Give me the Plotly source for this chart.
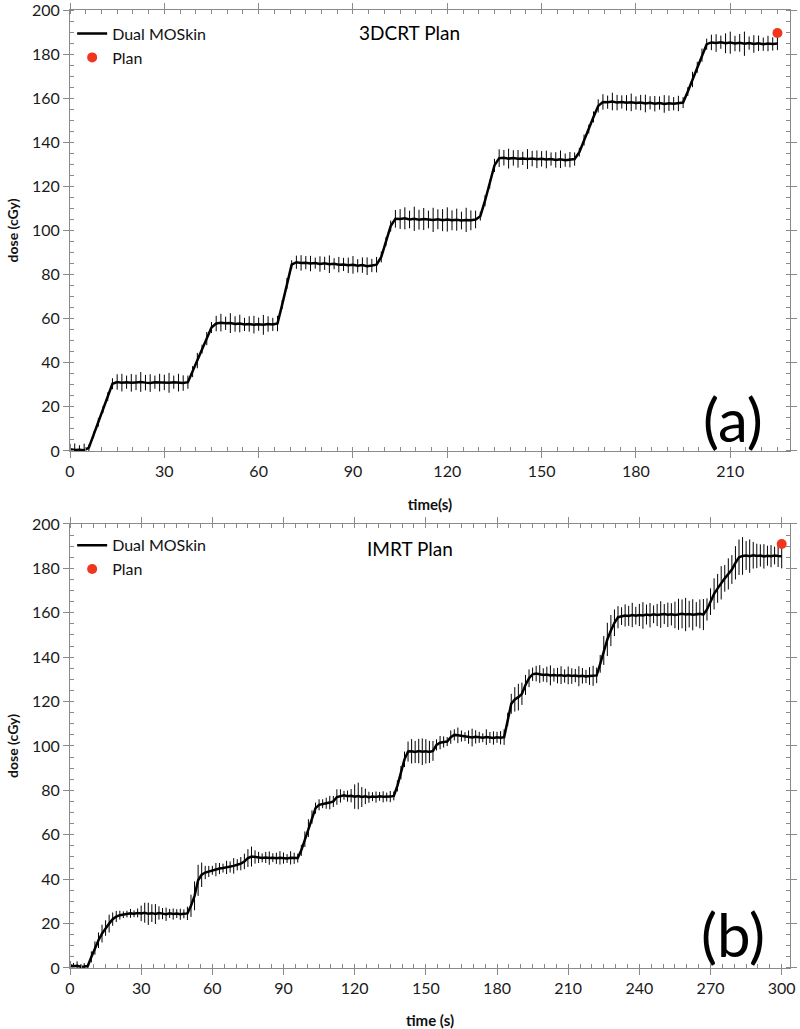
import plotly.graph_objects as go

# ---------------- data ----------------
# sampling interval (s) of the Dual MOSkin read-out
sample_step = 1.5

# 3DCRT plan: dose (cGy) at t = 0, 1.5, 3, ... 225 s
dcrt_dose = [
    0.8, 0.4, 0.6, 0.3, 1.5, 7.3, 13.0, 18.8, 24.6, 30.5,
    31.3, 31.0, 31.2, 30.9, 31.1, 31.3, 31.0, 30.8, 31.2, 31.0,
    31.1, 30.9, 31.2, 31.0, 30.8, 31.2, 36.0, 41.0, 46.2, 51.0,
    56.0, 57.8, 58.2, 57.9, 58.0, 57.6, 57.8, 57.4, 57.6, 57.3,
    57.5, 57.2, 57.6, 57.4, 57.8, 66.5, 76.0, 84.5, 85.6, 85.3,
    85.4, 85.0, 85.2, 84.8, 85.1, 84.7, 84.9, 84.5, 84.6, 84.2,
    84.4, 84.0, 84.3, 83.8, 84.1, 84.5, 88.0, 95.0, 102.0, 105.3,
    105.2, 105.5, 105.0, 105.3, 104.9, 105.2, 105.0, 104.8, 105.1, 104.7,
    105.0, 104.6, 104.9, 104.5, 104.8, 104.6, 105.0, 106.5, 113.5, 121.0,
    129.5, 132.8, 133.0, 132.6, 132.9, 132.5, 132.7, 132.4, 132.6, 132.3,
    132.5, 132.2, 132.4, 132.0, 132.3, 131.9, 132.1, 132.4, 135.5, 141.0,
    146.0, 151.5, 156.5, 158.3, 158.2, 158.5, 158.0, 158.3, 157.9, 158.1,
    157.8, 158.0, 157.6, 157.9, 157.5, 157.8, 157.4, 157.7, 157.5, 157.6,
    158.0, 163.0, 168.5, 174.0, 179.5, 184.5, 185.3, 185.0, 185.4, 184.9,
    185.2, 184.8, 185.1, 184.7, 185.0, 184.6, 184.9, 184.5, 184.8, 184.6,
    184.8,
]
dcrt_err = [
    2.5, 3.0, 2.0, 3.0, 1.5, 1.5, 2.0, 1.5, 2.0, 2.5,
    3.5, 4.0, 3.0, 4.0, 3.5, 4.5, 3.5, 4.0, 3.0, 4.0,
    3.5, 4.5, 3.0, 4.0, 3.5, 3.0, 2.5, 3.5, 2.0, 3.0,
    2.5, 3.5, 4.0, 3.0, 4.5, 3.5, 4.0, 3.0, 3.5, 4.0,
    3.0, 4.5, 3.5, 3.0, 3.5, 2.0, 2.5, 2.0, 3.0, 3.5,
    3.0, 3.5, 2.5, 3.5, 3.0, 4.0, 2.5, 3.5, 3.0, 3.5,
    4.0, 3.0, 3.5, 4.0, 3.0, 3.5, 2.5, 2.0, 2.5, 4.0,
    4.5, 5.0, 4.0, 5.5, 4.5, 5.0, 4.0, 5.5, 4.5, 5.0,
    5.5, 4.5, 5.0, 4.0, 5.5, 4.5, 4.0, 2.0, 2.5, 2.0,
    3.0, 4.0, 3.5, 4.5, 3.5, 4.0, 3.0, 4.5, 3.5, 4.0,
    3.5, 4.0, 3.0, 3.5, 4.0, 3.0, 3.5, 3.0, 2.0, 2.5,
    2.0, 2.5, 3.0, 3.5, 3.0, 4.0, 3.5, 3.0, 3.5, 4.0,
    3.0, 3.5, 4.0, 3.0, 3.5, 3.0, 4.0, 3.5, 3.0, 3.5,
    2.5, 2.0, 3.5, 2.5, 3.0, 2.5, 3.5, 4.0, 3.0, 4.5,
    5.0, 3.5, 4.0, 5.5, 3.0, 4.0, 3.5, 3.0, 3.5, 3.0,
    3.0,
]
dcrt_plan_time = [225]
dcrt_plan_dose = [189.6]

# IMRT plan: dose (cGy) at t = 0, 1.5, 3, ... 300 s
imrt_dose = [
    1.2, 0.8, 1.0, 0.6, 0.7, 0.9, 5.0, 9.0, 12.5, 15.5,
    18.0, 20.0, 22.0, 23.2, 23.8, 24.0, 24.3, 24.6, 24.4, 24.8,
    24.6, 24.9, 24.4, 24.7, 24.3, 24.8, 24.5, 24.2, 24.6, 24.3,
    24.5, 24.2, 24.4, 24.6, 28.0, 32.5, 39.5, 42.0, 43.0, 43.5,
    44.0, 44.3, 44.8, 45.0, 45.3, 45.5, 46.0, 46.5, 47.0, 48.0,
    49.5, 50.2, 50.0, 49.8, 49.6, 49.8, 49.5, 49.7, 49.4, 49.6,
    49.5, 49.3, 49.6, 49.4, 49.5, 53.0, 58.0, 63.0, 68.0, 72.0,
    73.5, 74.0, 74.2, 74.5, 75.0, 77.0, 77.5, 77.8, 77.4, 77.6,
    77.2, 77.5, 77.0, 77.3, 76.9, 77.2, 77.0, 77.3, 77.1, 77.0,
    77.2, 77.5, 82.0, 88.0, 94.0, 97.5, 97.6, 97.3, 97.7, 97.4,
    97.6, 97.3, 97.8, 100.5, 101.5, 101.8, 102.0, 104.0, 105.0, 104.8,
    104.5, 104.2, 104.0, 103.8, 104.1, 103.9, 103.7, 104.0, 103.8, 103.6,
    103.9, 103.7, 104.0, 112.0, 119.0, 121.0, 122.0, 123.5, 127.5, 130.5,
    132.3, 132.6, 132.4, 132.0, 132.2, 131.8, 132.0, 131.7, 131.9, 131.5,
    131.8, 131.5, 131.7, 131.4, 131.6, 131.3, 131.5, 131.6, 131.8, 137.0,
    143.0, 148.0, 152.0, 155.5, 158.0, 158.5, 158.8, 158.6, 159.0, 158.7,
    159.0, 158.8, 159.2, 158.9, 159.3, 159.0, 159.2, 159.4, 159.1, 159.3,
    159.0, 159.3, 159.5, 159.2, 159.4, 159.1, 159.3, 159.5, 159.2, 161.5,
    165.0, 168.5, 171.0, 173.5, 175.5, 177.5, 179.5, 182.5, 185.0, 185.6,
    185.8, 185.5, 185.9, 185.6, 185.8, 185.4, 185.7, 185.5, 185.8, 185.6,
    185.5,
]
imrt_err = [
    2.0, 1.5, 2.0, 1.0, 1.5, 1.0, 2.5, 3.0, 3.5, 4.0,
    3.5, 4.0, 3.0, 2.5, 2.0, 1.5, 1.5, 2.0, 1.5, 2.0,
    3.5, 4.5, 5.0, 4.0, 4.5, 3.0, 2.5, 3.0, 2.0, 2.5,
    2.0, 2.5, 2.0, 3.0, 5.0, 6.5, 7.0, 5.5, 3.0, 2.5,
    2.0, 3.0, 2.5, 2.0, 3.0, 2.5, 3.5, 2.5, 3.0, 3.5,
    4.0, 4.5, 3.0, 2.5, 2.0, 2.5, 3.0, 2.0, 2.5, 3.0,
    2.5, 2.0, 3.0, 2.5, 2.0, 2.5, 3.5, 4.0, 3.0, 2.5,
    2.5, 2.0, 2.5, 3.0, 2.5, 3.5, 3.0, 2.0, 2.5, 3.0,
    5.5, 6.0, 4.5, 3.5, 2.5, 2.0, 2.5, 2.0, 2.5, 2.0,
    2.5, 2.0, 2.5, 3.0, 3.5, 4.5, 5.5, 5.0, 5.5, 6.0,
    5.5, 5.0, 4.5, 2.5, 3.0, 2.5, 2.0, 3.0, 2.5, 3.5,
    2.5, 2.0, 3.0, 4.0, 3.0, 2.5, 2.0, 3.5, 2.5, 3.0,
    2.5, 3.0, 3.5, 3.0, 4.5, 5.5, 6.0, 5.0, 4.5, 4.0,
    3.0, 3.5, 4.0, 3.0, 3.5, 4.5, 3.0, 3.5, 4.0, 3.0,
    4.0, 3.5, 3.0, 4.5, 3.5, 3.0, 4.0, 4.5, 3.5, 4.0,
    6.5, 7.5, 7.0, 6.0, 5.0, 4.0, 5.0, 4.5, 5.5, 4.0,
    5.0, 6.0, 4.5, 5.5, 4.0, 5.0, 6.0, 4.5, 5.5, 5.0,
    6.0, 7.0, 6.5, 7.5, 6.0, 7.0, 5.5, 6.5, 7.0, 5.0,
    6.0, 7.0, 6.5, 7.5, 6.0, 7.0, 6.5, 7.5, 8.0, 8.5,
    6.5, 7.5, 6.0, 5.5, 5.0, 5.5, 4.5, 5.0, 4.0, 5.0,
    5.5,
]
imrt_plan_time = [300]
imrt_plan_dose = [191.0]

x_ticks_top = [0, 30, 60, 90, 120, 150, 180, 210]
x_ticks_bottom = [0, 30, 60, 90, 120, 150, 180, 210, 240, 270, 300]
y_ticks = [0, 20, 40, 60, 80, 100, 120, 140, 160, 180, 200]

dcrt_time = [i * sample_step for i in range(len(dcrt_dose))]
imrt_time = [i * sample_step for i in range(len(imrt_dose))]

# ---------------- figure ----------------
FONT = "Lato"
AXIS_COL = "#8a8a8a"
RED = "#f0361c"

fig = go.Figure()

fig.add_trace(go.Scatter(
    x=dcrt_time, y=dcrt_dose, mode="lines", name="Dual MOSkin",
    line=dict(color="black", width=2.5),
    error_y=dict(type="data", array=dcrt_err, visible=True, color="black",
                 thickness=1, width=0),
    xaxis="x", yaxis="y", legend="legend"))
fig.add_trace(go.Scatter(
    x=dcrt_plan_time, y=dcrt_plan_dose, mode="markers", name="Plan",
    marker=dict(color=RED, size=10), xaxis="x", yaxis="y", legend="legend"))

fig.add_trace(go.Scatter(
    x=imrt_time, y=imrt_dose, mode="lines", name="Dual MOSkin",
    line=dict(color="black", width=2.5),
    error_y=dict(type="data", array=imrt_err, visible=True, color="black",
                 thickness=1, width=0),
    xaxis="x2", yaxis="y2", legend="legend2"))
fig.add_trace(go.Scatter(
    x=imrt_plan_time, y=imrt_plan_dose, mode="markers", name="Plan",
    marker=dict(color=RED, size=10), xaxis="x2", yaxis="y2", legend="legend2"))

top_dom = [0.5397, 1.0]
bot_dom = [0.0, 0.4635]

def xaxis(dom_anchor, rng, ticks, title):
    return dict(
        domain=[0, 1], anchor=dom_anchor, range=rng, tickvals=ticks,
        automargin=False, ticklabeloverflow="allow",
        showgrid=False, zeroline=False, showline=True, linecolor=AXIS_COL,
        linewidth=1, mirror="ticks", ticks="outside", ticklen=6,
        tickcolor=AXIS_COL,
        minor=dict(dtick=5, ticks="inside", ticklen=4, tickcolor=AXIS_COL,
                   showgrid=False),
        tickfont=dict(family=FONT, size=16, color="#1a1a1a"),
        title=dict(text=title, font=dict(family=FONT, size=15, color="#111"),
                   standoff=20),
    )

def yaxis(dom, anchor):
    return dict(
        domain=dom, anchor=anchor, range=[0, 200], tickvals=y_ticks,
        automargin=False, ticklabeloverflow="allow",
        showgrid=False, zeroline=False, showline=True, linecolor=AXIS_COL,
        linewidth=1, mirror="ticks", ticks="outside", ticklen=6,
        tickcolor=AXIS_COL,
        minor=dict(dtick=5, ticks="inside", ticklen=4, tickcolor=AXIS_COL,
                   showgrid=False),
        tickfont=dict(family=FONT, size=16, color="#1a1a1a"),
        title=dict(text="<b>dose (cGy)</b>",
                   font=dict(family=FONT, size=14, color="#111"), standoff=10),
    )

fig.update_layout(
    width=800, height=1029,
    margin=dict(l=70, r=10, t=10, b=61, autoexpand=False),
    paper_bgcolor="white", plot_bgcolor="white",
    font=dict(family=FONT, color="#111"),
    xaxis=xaxis("y", [0, 229], x_ticks_top, "<b>time(s)</b>"),
    yaxis=yaxis(top_dom, "x"),
    xaxis2=xaxis("y2", [0, 303.5], x_ticks_bottom, "<b>time (s)</b>"),
    yaxis2=yaxis(bot_dom, "x2"),
    legend=dict(x=0.003, y=0.993, xanchor="left", yanchor="top",
                bgcolor="rgba(0,0,0,0)", font=dict(family=FONT, size=16),
                itemwidth=30, tracegroupgap=0),
    legend2=dict(x=0.003, y=0.459, xanchor="left", yanchor="top",
                 bgcolor="rgba(0,0,0,0)", font=dict(family=FONT, size=16),
                 itemwidth=30, tracegroupgap=0),
    showlegend=True,
)

annos = [
    dict(text="3DCRT Plan", x=0.472, y=0.976, size=19),
    dict(text="IMRT Plan", x=0.472, y=0.438, size=19),
    dict(text="(a)", x=0.921, y=0.573, size=60),
    dict(text="(b)", x=0.921, y=0.036, size=60),
]
for a in annos:
    fig.add_annotation(text=a["text"], x=a["x"], y=a["y"], xref="paper",
                       yref="paper", showarrow=False, xanchor="center",
                       yanchor="middle",
                       font=dict(family=FONT, size=a["size"], color="black"))

# remove the default page margin so the figure sits at the window's corner
fig.write_html("out.html", config={"displayModeBar": False},
               post_script="document.body.style.margin='0px';")
